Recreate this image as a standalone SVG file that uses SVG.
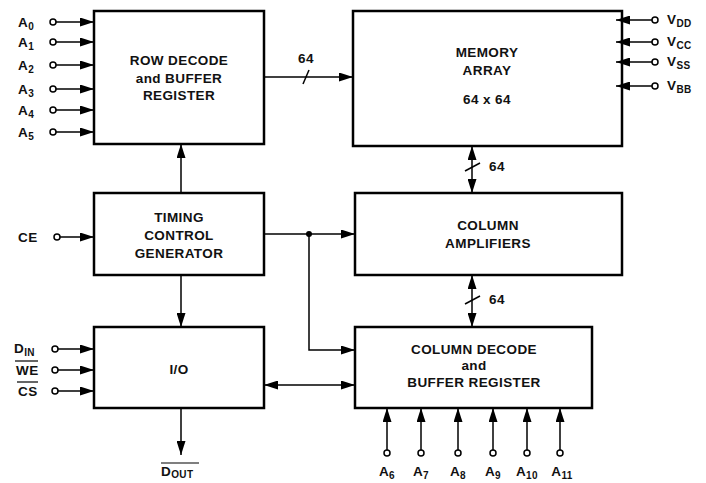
<svg xmlns="http://www.w3.org/2000/svg" width="706" height="483" viewBox="0 0 706 483">
<defs>
<marker id="ah" viewBox="0 0 14 9" refX="14" refY="4.5" markerWidth="14" markerHeight="9" markerUnits="userSpaceOnUse" orient="auto-start-reverse">
<path d="M0,0 L14,4.5 L0,9 z" fill="#000"/>
</marker>
</defs>
<style>
.box{fill:#fff;stroke:#000;stroke-width:2.5}
.ln{fill:none;stroke:#000;stroke-width:1.5}
.pin{fill:#fff;stroke:#000;stroke-width:1.5}
text{font-family:"Liberation Sans",Arial,sans-serif;font-size:13.5px;font-weight:bold;fill:#111;letter-spacing:0.4px}
.c{text-anchor:middle}
.sub{font-size:10px}
</style>
<rect width="706" height="483" fill="#fff"/>

<g id="row-decode">
<rect class="box" x="94" y="11" width="170" height="133"/>
<text class="c" x="179" y="65">ROW DECODE</text>
<text class="c" x="179" y="83">and BUFFER</text>
<text class="c" x="179" y="100">REGISTER</text>
</g>

<g id="memory-array">
<rect class="box" x="353" y="11" width="269" height="135"/>
<text class="c" x="487" y="57">MEMORY</text>
<text class="c" x="487" y="75">ARRAY</text>
<text class="c" x="487" y="104">64 x 64</text>
</g>

<g id="timing">
<rect class="box" x="94" y="193" width="170" height="82"/>
<text class="c" x="179" y="222">TIMING</text>
<text class="c" x="179" y="240">CONTROL</text>
<text class="c" x="179" y="258">GENERATOR</text>
</g>

<g id="column-amplifiers">
<rect class="box" x="355" y="193" width="267" height="82"/>
<text class="c" x="488" y="230">COLUMN</text>
<text class="c" x="488" y="248">AMPLIFIERS</text>
</g>

<g id="io">
<rect class="box" x="94" y="327" width="170" height="81"/>
<text class="c" x="179" y="374">I/O</text>
</g>

<g id="column-decode">
<rect class="box" x="355" y="327" width="237" height="81"/>
<text class="c" x="474" y="354">COLUMN DECODE</text>
<text class="c" x="474" y="370">and</text>
<text class="c" x="474" y="387">BUFFER REGISTER</text>
</g>

<g id="connectors">
<g>
<line class="ln" x1="56" y1="22" x2="94" y2="22" marker-end="url(#ah)"/>
<line class="ln" x1="56" y1="42" x2="94" y2="42" marker-end="url(#ah)"/>
<line class="ln" x1="56" y1="65" x2="94" y2="65" marker-end="url(#ah)"/>
<line class="ln" x1="56" y1="89" x2="94" y2="89" marker-end="url(#ah)"/>
<line class="ln" x1="56" y1="110" x2="94" y2="110" marker-end="url(#ah)"/>
<line class="ln" x1="56" y1="132" x2="94" y2="132" marker-end="url(#ah)"/>
<circle class="pin" cx="53" cy="22" r="3"/>
<circle class="pin" cx="53" cy="42" r="3"/>
<circle class="pin" cx="53" cy="65" r="3"/>
<circle class="pin" cx="53" cy="89" r="3"/>
<circle class="pin" cx="53" cy="110" r="3"/>
<circle class="pin" cx="53" cy="132" r="3"/>
</g>
<line class="ln" x1="264" y1="77" x2="353" y2="77" marker-end="url(#ah)"/>
<line class="ln" x1="303" y1="84" x2="309" y2="70"/>
<line class="ln" x1="472" y1="146" x2="472" y2="193" marker-start="url(#ah)" marker-end="url(#ah)"/>
<line class="ln" x1="465" y1="171" x2="480" y2="163"/>
<line class="ln" x1="472" y1="275" x2="472" y2="327" marker-start="url(#ah)" marker-end="url(#ah)"/>
<line class="ln" x1="465" y1="304" x2="480" y2="296"/>
<line class="ln" x1="181" y1="193" x2="181" y2="144" marker-end="url(#ah)"/>
<line class="ln" x1="181" y1="275" x2="181" y2="327" marker-end="url(#ah)"/>
<line class="ln" x1="264" y1="234" x2="355" y2="234" marker-end="url(#ah)"/>
<polyline class="ln" points="309,234 309,350 355,350" marker-end="url(#ah)"/>
<circle cx="309" cy="234" r="3" fill="#000"/>
<line class="ln" x1="264" y1="385" x2="355" y2="385" marker-start="url(#ah)" marker-end="url(#ah)"/>
<line class="ln" x1="60" y1="237" x2="94" y2="237" marker-end="url(#ah)"/>
<circle class="pin" cx="57" cy="237" r="3"/>
<line class="ln" x1="58" y1="349" x2="94" y2="349" marker-end="url(#ah)"/>
<line class="ln" x1="58" y1="370" x2="94" y2="370" marker-end="url(#ah)"/>
<line class="ln" x1="58" y1="391" x2="94" y2="391" marker-end="url(#ah)"/>
<circle class="pin" cx="55" cy="349" r="3"/>
<circle class="pin" cx="55" cy="370" r="3"/>
<circle class="pin" cx="55" cy="391" r="3"/>
<line class="ln" x1="181" y1="408" x2="181" y2="455" marker-end="url(#ah)"/>
<line class="ln" x1="387" y1="450" x2="387" y2="408" marker-end="url(#ah)"/>
<line class="ln" x1="421" y1="450" x2="421" y2="408" marker-end="url(#ah)"/>
<line class="ln" x1="458" y1="450" x2="458" y2="408" marker-end="url(#ah)"/>
<line class="ln" x1="493" y1="450" x2="493" y2="408" marker-end="url(#ah)"/>
<line class="ln" x1="527" y1="450" x2="527" y2="408" marker-end="url(#ah)"/>
<line class="ln" x1="560" y1="450" x2="560" y2="408" marker-end="url(#ah)"/>
<circle class="pin" cx="387" cy="453" r="3"/>
<circle class="pin" cx="421" cy="453" r="3"/>
<circle class="pin" cx="458" cy="453" r="3"/>
<circle class="pin" cx="493" cy="453" r="3"/>
<circle class="pin" cx="527" cy="453" r="3"/>
<circle class="pin" cx="560" cy="453" r="3"/>
<line class="ln" x1="652" y1="20" x2="616" y2="20" marker-end="url(#ah)"/>
<line class="ln" x1="652" y1="42" x2="616" y2="42" marker-end="url(#ah)"/>
<line class="ln" x1="652" y1="62" x2="616" y2="62" marker-end="url(#ah)"/>
<line class="ln" x1="652" y1="86" x2="616" y2="86" marker-end="url(#ah)"/>
<circle class="pin" cx="655" cy="20" r="3"/>
<circle class="pin" cx="655" cy="42" r="3"/>
<circle class="pin" cx="655" cy="62" r="3"/>
<circle class="pin" cx="655" cy="86" r="3"/>
</g>

<g id="labels">
<text x="18" y="27">A<tspan class="sub" dy="3">0</tspan></text>
<text x="18" y="47">A<tspan class="sub" dy="3">1</tspan></text>
<text x="18" y="70">A<tspan class="sub" dy="3">2</tspan></text>
<text x="18" y="94">A<tspan class="sub" dy="3">3</tspan></text>
<text x="18" y="115">A<tspan class="sub" dy="3">4</tspan></text>
<text x="18" y="137">A<tspan class="sub" dy="3">5</tspan></text>
<text class="c" x="306" y="63">64</text>
<text x="489" y="171">64</text>
<text x="489" y="304">64</text>
<text x="18" y="242">CE</text>
<text x="14" y="353">D<tspan class="sub" dy="3">IN</tspan></text>
<text x="16" y="375">WE</text>
<line x1="15" y1="361" x2="38" y2="361" stroke="#000" stroke-width="1.2"/>
<text x="18" y="396">CS</text>
<line x1="17" y1="382" x2="38" y2="382" stroke="#000" stroke-width="1.2"/>
<text x="161" y="476">D<tspan class="sub" dy="2">OUT</tspan></text>
<line x1="161" y1="463" x2="199" y2="463" stroke="#000" stroke-width="1.2"/>
<text class="c" x="387" y="476">A<tspan class="sub" dy="3">6</tspan></text>
<text class="c" x="421" y="476">A<tspan class="sub" dy="3">7</tspan></text>
<text class="c" x="458" y="476">A<tspan class="sub" dy="3">8</tspan></text>
<text class="c" x="493" y="476">A<tspan class="sub" dy="3">9</tspan></text>
<text class="c" x="527" y="476">A<tspan class="sub" dy="3">10</tspan></text>
<text class="c" x="562" y="476">A<tspan class="sub" dy="3">11</tspan></text>
<text x="667" y="24">V<tspan class="sub" dy="3">DD</tspan></text>
<text x="667" y="46">V<tspan class="sub" dy="3">CC</tspan></text>
<text x="667" y="66">V<tspan class="sub" dy="3">SS</tspan></text>
<text x="667" y="90">V<tspan class="sub" dy="3">BB</tspan></text>
</g>
</svg>
